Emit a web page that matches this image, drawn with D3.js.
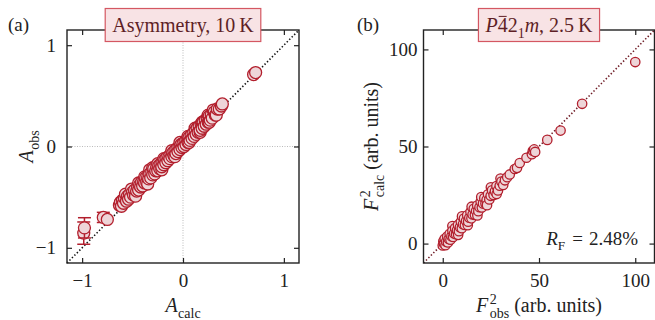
<!DOCTYPE html>
<html><head><meta charset="utf-8">
<script src="https://cdn.jsdelivr.net/npm/d3@7"></script>
<style>
body{margin:0;background:#fff}
svg{display:block}
text{font-family:"Liberation Serif","DejaVu Serif",serif;fill:#222}
</style>
</head><body>
<svg id="chart" width="655" height="320"></svg>
<script>
// (a) flipping-ratio asymmetry at 10 K: [A_calc, A_obs]
const asymPoints = [
  [-0.984,-0.855],[-0.977,-0.803],[-0.79,-0.70],[-0.75,-0.72],
  [-0.63,-0.58],[-0.62,-0.55],[-0.61,-0.59],[-0.60,-0.53],[-0.59,-0.56],
  [-0.58,-0.51],[-0.57,-0.47],[-0.56,-0.54],[-0.55,-0.49],[-0.54,-0.52],[-0.53,-0.47],
  [-0.52,-0.50],[-0.51,-0.42],[-0.50,-0.45],[-0.49,-0.48],[-0.48,-0.43],[-0.47,-0.49],[-0.46,-0.44],
  [-0.45,-0.40],[-0.44,-0.36],[-0.44,-0.43],[-0.43,-0.38],[-0.42,-0.40],[-0.41,-0.35],
  [-0.40,-0.39],[-0.39,-0.34],[-0.38,-0.30],[-0.38,-0.36],[-0.37,-0.31],[-0.36,-0.35],
  [-0.35,-0.37],[-0.35,-0.30],[-0.34,-0.32],[-0.33,-0.23],[-0.33,-0.27],[-0.32,-0.31],
  [-0.31,-0.25],[-0.30,-0.21],[-0.30,-0.28],[-0.29,-0.22],[-0.28,-0.27],[-0.27,-0.24],
  [-0.26,-0.20],[-0.25,-0.17],[-0.25,-0.24],[-0.24,-0.19],[-0.23,-0.22],[-0.22,-0.17],
  [-0.21,-0.23],[-0.21,-0.20],[-0.20,-0.15],[-0.19,-0.12],[-0.19,-0.18],[-0.18,-0.13],[-0.17,-0.16],
  [-0.16,-0.11],[-0.15,-0.14],[-0.14,-0.10],[-0.13,-0.12],[-0.12,-0.07],
  [-0.11,-0.04],[-0.11,-0.10],[-0.10,-0.06],[-0.09,-0.09],[-0.08,-0.10],[-0.08,-0.04],[-0.07,-0.07],
  [-0.06,-0.02],[-0.05,-0.05],[-0.04,0.00],[-0.03,0.04],[-0.03,-0.03],[-0.02,0.02],
  [-0.01,-0.01],[0.00,0.03],[0.01,0.00],[0.02,0.05],[0.03,0.02],
  [0.04,0.07],[0.05,0.10],[0.05,0.04],[0.06,0.04],[0.06,0.09],[0.07,0.06],[0.08,0.11],
  [0.09,0.08],[0.10,0.13],[0.11,0.10],[0.12,0.18],[0.12,0.15],[0.13,0.12],
  [0.14,0.18],[0.15,0.14],[0.16,0.20],[0.17,0.14],[0.17,0.16],[0.18,0.22],
  [0.19,0.24],[0.19,0.18],[0.20,0.24],[0.21,0.20],[0.22,0.26],[0.23,0.22],
  [0.24,0.28],[0.25,0.31],[0.25,0.24],[0.26,0.30],[0.26,0.24],[0.27,0.26],[0.28,0.31],
  [0.29,0.28],[0.30,0.36],[0.31,0.34],[0.32,0.31],[0.33,0.31],[0.34,0.37],[0.36,0.37],
  [0.38,0.40],[0.39,0.42],[0.70,0.71],[0.72,0.73]
];
// uncertainties of the first three reflections; the others stay inside the markers
const asymErr = [0.11, 0.10, 0.05];
const asymTicks = [-1, 0, 1];
const asymTickLabels = ["\u22121", "0", "1"];

// (b) structure refinement in P-42_1m at 2.5 K: [F2_obs, F2_calc]
const fPoints = [
  [0.0,-1.0],[0.3,1.2],[0.6,0.0],[1.0,2.5],[1.4,-0.8],[1.8,1.0],[2.3,3.6],
  [2.7,0.6],[3.1,2.4],[3.6,5.0],[4.0,2.0],[4.5,3.8],[5.0,9.0],[5.0,6.6],[5.4,3.4],
  [5.9,5.2],[6.4,8.0],[6.9,4.8],[7.4,6.8],[7.9,9.6],[8.0,4.5],[8.4,6.4],[8.9,8.4],
  [9.4,11.2],[9.9,7.9],[10.0,14.0],[10.5,10.0],[11.0,12.9],[11.5,9.6],[12.1,11.6],
  [12.7,14.6],[13.0,9.5],[13.2,11.3],[13.8,13.3],[14.4,16.3],[14.9,13.0],[15.0,19.0],[15.5,15.0],
  [16.1,17.9],[16.7,14.8],[17.3,16.8],[17.9,19.6],[18.0,14.5],[18.5,16.7],[19.1,18.7],
  [19.7,21.5],[20.0,24.0],[20.3,18.6],[20.9,20.6],[21.6,23.4],[22.2,20.6],[22.8,22.5],
  [23.0,19.8],[23.5,25.4],[24.2,22.7],[24.9,24.6],[25.0,29.0],[25.6,27.4],[26.4,25.0],[27.1,26.9],
  [27.9,29.6],[28.0,25.5],[28.7,27.4],[29.6,29.8],[30.0,33.5],[30.5,31.9],[31.4,30.2],[32.3,32.6],
  [33.5,34.2],[34.8,35.6],[37.4,38.4],[38.6,39.0],[40.0,41.5],[43.5,44.2],
  [46.3,46.0],[46.8,47.8],[47.5,48.5],[48.0,47.2],[54.3,53.4],[61.2,58.2],
  [72.4,72.0],[100.0,93.5]
];
const fTicks = [0, 50, 100];
const fTickLabels = ["0", "50", "100"];
const rFactorValue = "2.48%";

const COL = {
  stroke: "#b21f2d", fill: "#eed5d8",
  boxFill: "#f8e3e5", boxStroke: "#d45762", boxText: "#5e1f26",
  diagB: "#6e1a24", frame: "#222"
};

const svg = d3.select("#chart");
const TOP = 30, BOTTOM = 263;

// text built from pieces: italic/roman, sub/superscripts, stacked scripts, overbars
function richText(parent, parts, size, color) {
  const g = parent.append("g");
  let cx = 0;
  const subDy = size * 0.28, supDy = -size * 0.4;
  parts.forEach(p => {
    const fs = p.script ? size * 0.7 : size;
    if (p.stack) {
      // superscript and subscript stacked in one text element
      const x0 = cx + (p.dx || 0);
      const t = g.append("text").attr("font-size", fs);
      if (color) t.style("fill", color);
      const a = t.append("tspan").attr("x", x0).attr("y", supDy).text(p.stack[0]);
      const b = t.append("tspan").attr("x", x0).attr("y", subDy).text(p.stack[1]);
      const w = Math.max(a.node().getComputedTextLength(), b.node().getComputedTextLength());
      cx = x0 + w;
      return;
    }
    const dy = p.script === "sub" ? subDy : p.script === "sup" ? supDy : 0;
    const t = g.append("text")
      .attr("y", dy).attr("font-size", fs)
      .style("font-style", p.italic ? "italic" : "normal")
      .text(p.t);
    if (color) t.style("fill", color);
    const w = t.node().getComputedTextLength();
    const x0 = cx + (p.dx || 0);
    cx = x0 + w;
    t.attr("x", x0);
    if (p.bar) {
      g.append("line").attr("x1", x0 + 1).attr("x2", x0 + w - 1)
        .attr("y1", -size * 0.78).attr("y2", -size * 0.78)
        .attr("stroke", color || "#222").attr("stroke-width", 1);
    }
  });
  return { g, width: cx };
}

function panel(cfg) {
  const g = svg.append("g");
  const x = d3.scaleLinear().domain(cfg.domain).range([cfg.left, cfg.right]);
  const y = d3.scaleLinear().domain(cfg.domain).range([BOTTOM, TOP]);

  if (cfg.grid) {
    g.append("line").attr("x1", x(0)).attr("x2", x(0)).attr("y1", TOP).attr("y2", BOTTOM)
      .attr("stroke", "#aaa").attr("stroke-width", 0.8).attr("stroke-dasharray", "1,1.5");
    g.append("line").attr("y1", y(0)).attr("y2", y(0)).attr("x1", cfg.left).attr("x2", cfg.right)
      .attr("stroke", "#aaa").attr("stroke-width", 0.8).attr("stroke-dasharray", "1,1.5");
  }
  // y = x guide
  g.append("line")
    .attr("x1", x(cfg.domain[0])).attr("y1", y(cfg.domain[0]))
    .attr("x2", x(cfg.domain[1])).attr("y2", y(cfg.domain[1]))
    .attr("stroke", cfg.diagColor).attr("stroke-width", 1.6)
    .attr("stroke-dasharray", "1.4,2.1");

  const pts = g.append("g");
  cfg.points.forEach((d, i) => {
    const e = cfg.errors ? cfg.errors[i] : 0;
    if (e) {
      const px = x(d[0]);
      pts.append("line").attr("x1", px).attr("x2", px)
        .attr("y1", y(d[1] - e)).attr("y2", y(d[1] + e))
        .attr("stroke", COL.stroke).attr("stroke-width", 1.5);
      [d[1] - e, d[1] + e].forEach(v => {
        pts.append("line").attr("x1", px - 6.5).attr("x2", px + 6.5)
          .attr("y1", y(v)).attr("y2", y(v))
          .attr("stroke", COL.stroke).attr("stroke-width", 1.5);
      });
    }
    pts.append("circle").attr("cx", x(d[0])).attr("cy", y(d[1])).attr("r", cfg.r)
      .attr("fill", COL.fill).attr("stroke", COL.stroke).attr("stroke-width", 1.3);
  });

  // axes: inward ticks on all four sides
  const fmt = (d, i) => cfg.tickLabels[i];
  const style = s => {
    s.select(".domain").remove();
    s.attr("font-family", null).attr("font-size", 19);
    s.selectAll(".tick line").attr("stroke", COL.frame).attr("stroke-width", 1.2);
  };
  g.append("g").attr("transform", `translate(0,${BOTTOM})`)
    .call(d3.axisBottom(x).tickValues(cfg.ticks).tickFormat(fmt).tickSizeInner(-5).tickSizeOuter(0).tickPadding(10.5))
    .call(style);
  g.append("g").attr("transform", `translate(0,${TOP})`)
    .call(d3.axisTop(x).tickValues(cfg.ticks).tickFormat("").tickSizeInner(-5).tickSizeOuter(0))
    .call(style);
  g.append("g").attr("transform", `translate(${cfg.left},0)`)
    .call(d3.axisLeft(y).tickValues(cfg.ticks).tickFormat(fmt).tickSizeInner(-5).tickSizeOuter(0).tickPadding(cfg.yPad))
    .call(style);
  g.append("g").attr("transform", `translate(${cfg.right},0)`)
    .call(d3.axisRight(y).tickValues(cfg.ticks).tickFormat("").tickSizeInner(-5).tickSizeOuter(0))
    .call(style);

  g.append("rect").attr("x", cfg.left).attr("y", TOP)
    .attr("width", cfg.right - cfg.left).attr("height", BOTTOM - TOP)
    .attr("fill", "none").attr("stroke", COL.frame).attr("stroke-width", 1.4);

  const midX = (cfg.left + cfg.right) / 2;

  // x label
  const xl = richText(g, cfg.xLabel, 20);
  xl.g.attr("transform", `translate(${midX - xl.width / 2},312)`);
  // y label
  const yl = richText(g, cfg.yLabel, 20);
  yl.g.attr("transform", `translate(${cfg.yLabelX},${(TOP + BOTTOM) / 2}) rotate(-90) translate(${-yl.width / 2},0)`);

  // title box
  const tb = g.append("g");
  const rect = tb.append("rect");
  const tt = richText(tb, cfg.title, 20, COL.boxText);
  tt.g.attr("transform", `translate(${midX - tt.width / 2},32)`);
  rect.attr("x", midX - tt.width / 2 - 7).attr("y", 8.5)
    .attr("width", tt.width + 14).attr("height", 33)
    .attr("fill", COL.boxFill).attr("stroke", COL.boxStroke).attr("stroke-width", 1.2);

  // panel letter
  g.append("text").attr("x", cfg.letterX).attr("y", 31).attr("font-size", 19).text(cfg.letter);

  return { g, x, y };
}

panel({
  domain: [-1.15, 1.15], left: 67, right: 299, r: 6,
  points: asymPoints, errors: asymErr, grid: true, diagColor: "#111",
  ticks: asymTicks, tickLabels: asymTickLabels, yPad: 11,
  xLabel: [{ t: "A", italic: true }, { t: "calc", script: "sub", dx: 0.5 }],
  yLabel: [{ t: "A", italic: true }, { t: "obs", script: "sub", dx: 0.5 }],
  yLabelX: 33,
  title: [{ t: "Asymmetry, 10\u2009K" }],
  letter: "(a)", letterX: 8
});

const pb = panel({
  domain: [-10, 110], left: 423.5, right: 654.5, r: 4.7,
  points: fPoints, grid: false, diagColor: COL.diagB,
  ticks: fTicks, tickLabels: fTickLabels, yPad: 6,
  xLabel: [{ t: "F", italic: true }, { stack: ["2", "obs"], script: true, dx: 1.5 },
           { t: "(arb. units)", dx: 5 }],
  yLabel: [{ t: "F", italic: true }, { stack: ["2", "calc"], script: true, dx: 1.5 },
           { t: "(arb. units)", dx: 5 }],
  yLabelX: 378,
  title: [{ t: "P", italic: true }, { t: "4", bar: true }, { t: "2" }, { t: "1", script: "sub" },
          { t: "m", italic: true }, { t: ", 2.5\u2009K" }],
  letter: "(b)", letterX: 357
});

// R-factor annotation, right-aligned inside panel (b)
const rf = richText(pb.g, [{ t: "R", italic: true }, { t: "F", script: "sub", dx: 0 },
                           { t: "=", dx: 7 }, { t: rFactorValue, dx: 6 }], 19);
rf.g.attr("transform", `translate(${638 - rf.width},245)`);
</script>
</body></html>
